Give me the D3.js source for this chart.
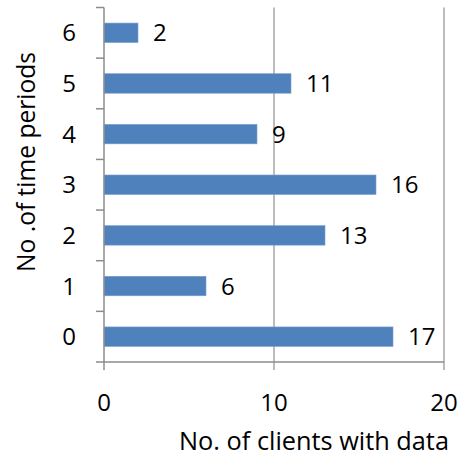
<!DOCTYPE html>
<html><head><meta charset="utf-8">
<script src="https://cdn.jsdelivr.net/npm/d3@7"></script>
<style>body{margin:0;background:#fff}svg text{font-family:"Open Sans",sans-serif;fill:#000}</style>
</head><body>
<svg id="c" width="463" height="456"></svg>
<script>
const categories = ["0","1","2","3","4","5","6"];
const values = [17,6,13,16,9,11,2];
const xTicks = [0,10,20];
const xTitle = "No. of clients with data";
const yTitle = "No .of time periods";

const svg = d3.select("#c");
const m = {l:104, r:19, t:7.5, b:94};
const W = 463, H = 456;
const fs = 24;
const x = d3.scaleLinear().domain([0,20]).range([m.l, W-m.r]);
const y = d3.scaleBand().domain(categories.slice().reverse()).range([m.t, H-m.b]).paddingInner(0.615).paddingOuter(0.3075);
const yb = d3.scaleBand().domain(categories.slice().reverse()).range([m.t, H-m.b]);

// gridlines
svg.append("g").selectAll("line").data(xTicks.filter(d=>d>0)).join("line")
  .attr("x1",d=>x(d)).attr("x2",d=>x(d)).attr("y1",m.t).attr("y2",H-m.b+8)
  .attr("stroke","#a6a6a6").attr("stroke-width",1.5);

// bars
svg.append("g").selectAll("rect").data(categories).join("rect")
  .attr("x",x(0)).attr("y",(d)=>y(d))
  .attr("width",(d,i)=>x(values[i])-x(0)).attr("height",y.bandwidth())
  .attr("fill","#4f81bd").attr("stroke","#7aa0cf").attr("stroke-width",0.6);

// value labels
svg.append("g").selectAll("text").data(categories).join("text")
  .attr("x",(d,i)=>x(values[i])+15).attr("y",d=>y(d)+y.bandwidth()/2)
  .attr("dy","0.36em").attr("font-size",fs).text((d,i)=>values[i]);

// y axis line + ticks
const ax = svg.append("g").attr("stroke","#8c8c8c").attr("stroke-width",1.5);
ax.append("line").attr("x1",x(0)).attr("x2",x(0)).attr("y1",m.t).attr("y2",H-m.b+8);
const yTickPos = categories.map(c=>yb(c)).concat([H-m.b]);
ax.selectAll(".yt").data(yTickPos).join("line").attr("class","yt")
  .attr("x1",x(0)-8).attr("x2",x(0)).attr("y1",d=>d).attr("y2",d=>d);
ax.append("line").attr("x1",x(0)).attr("x2",x(20)).attr("y1",H-m.b).attr("y2",H-m.b);

// y tick labels
svg.append("g").selectAll("text").data(categories).join("text")
  .attr("x",69).attr("y",d=>yb(d)+yb.bandwidth()/2).attr("dy","0.36em")
  .attr("text-anchor","middle").attr("font-size",fs).text(d=>d);

// x tick labels
svg.append("g").selectAll("text").data(xTicks).join("text")
  .attr("x",d=>x(d)).attr("y",411).attr("text-anchor","middle").attr("font-size",fs).text(d=>d);

// titles, sized to span the same width as in the reference
function fit(sel, target){
  const w = sel.node().getComputedTextLength();
  sel.attr("font-size", fs*target/w);
}
const xt = svg.append("text").attr("x",314).attr("y",450).attr("text-anchor","middle").attr("font-size",fs).text(xTitle);
fit(xt, 270);
const yt = svg.append("text").attr("transform","translate(35,162) rotate(-90)").attr("text-anchor","middle").attr("font-size",fs).text(yTitle);
fit(yt, 220);
</script>
</body></html>
